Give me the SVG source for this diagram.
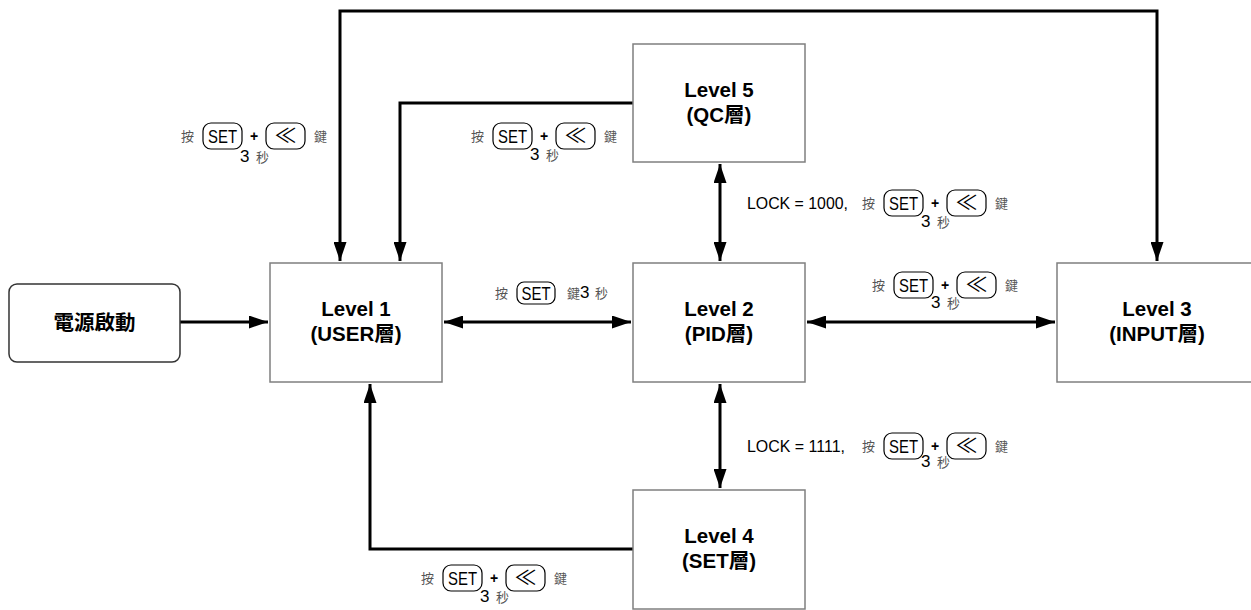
<svg xmlns="http://www.w3.org/2000/svg" width="1251" height="610" viewBox="0 0 1251 610">
<style>
.box{fill:#fff;stroke:#7f7f7f;stroke-width:1.5}
.pw{fill:#fff;stroke:#333;stroke-width:1.5}
.nt{font-family:"Liberation Sans","Noto Sans CJK TC",sans-serif;font-weight:bold;font-size:20.5px;fill:#000;text-anchor:middle}
.cn{fill:none;stroke:#000;stroke-width:3}
.k{fill:none;stroke:#000;stroke-width:1.2}
.lt{font-family:"Liberation Sans",sans-serif;font-size:17px;fill:#000}
.kt{font-family:"Liberation Sans",sans-serif;font-size:18px;fill:#000;text-anchor:middle}
.ar{font-family:"Noto Sans CJK TC","DejaVu Sans",sans-serif;font-size:20px;fill:#000;text-anchor:middle}
.pl{font-family:"Liberation Sans",sans-serif;font-weight:bold;font-size:14px;fill:#000;text-anchor:middle}
.cj{font-family:"Noto Sans CJK TC",sans-serif;font-size:13px;fill:#555}
</style>
<defs>
<marker id="ah" markerUnits="userSpaceOnUse" markerWidth="19" markerHeight="13" refX="19" refY="6.5" orient="auto-start-reverse">
<path d="M0,0 L19,6.5 L0,13 z" fill="#000"/>
</marker>
<g id="keys">
<text class="cj" x="0" y="5">按</text>
<rect class="k" x="22" y="-13" width="39" height="26" rx="8"/>
<text class="kt" x="41.5" y="6.5" textLength="29" lengthAdjust="spacingAndGlyphs">SET</text>
<text class="pl" x="73" y="5">+</text>
<rect class="k" x="85" y="-13" width="39" height="26" rx="8"/>
<text class="ar" x="104.5" y="7" textLength="22" lengthAdjust="spacingAndGlyphs">≪</text>
<text class="cj" x="133" y="5">鍵</text>
</g>
</defs>

<g id="connectors">
<line class="cn" x1="180" y1="322" x2="268" y2="322" marker-end="url(#ah)"/>
<line class="cn" x1="444" y1="322" x2="631" y2="322" marker-start="url(#ah)" marker-end="url(#ah)"/>
<line class="cn" x1="807" y1="322" x2="1055" y2="322" marker-start="url(#ah)" marker-end="url(#ah)"/>
<line class="cn" x1="720" y1="164" x2="720" y2="261" marker-start="url(#ah)" marker-end="url(#ah)"/>
<line class="cn" x1="720" y1="384" x2="720" y2="488" marker-start="url(#ah)" marker-end="url(#ah)"/>
<path class="cn" d="M340,261 L340,11 L1157,11 L1157,261" marker-start="url(#ah)" marker-end="url(#ah)"/>
<path class="cn" d="M633,103 L400,103 L400,261" marker-end="url(#ah)"/>
<path class="cn" d="M633,549 L370,549 L370,384" marker-end="url(#ah)"/>
</g>

<g id="power">
<rect class="pw" x="9" y="284" width="171" height="78" rx="8"/>
<text class="nt" x="94.5" y="330" font-size="21">電源啟動</text>
</g>
<g id="level1">
<rect class="box" x="270" y="263" width="172" height="119"/>
<text class="nt" x="356" y="316">Level 1</text>
<text class="nt" x="356" y="341">(USER層)</text>
</g>
<g id="level2">
<rect class="box" x="633" y="263" width="172" height="119"/>
<text class="nt" x="719" y="316">Level 2</text>
<text class="nt" x="719" y="341">(PID層)</text>
</g>
<g id="level3">
<rect class="box" x="1057" y="263" width="220" height="119"/>
<text class="nt" x="1157" y="316">Level 3</text>
<text class="nt" x="1157" y="341">(INPUT層)</text>
</g>
<g id="level5">
<rect class="box" x="633" y="44" width="172" height="118"/>
<text class="nt" x="719" y="97">Level 5</text>
<text class="nt" x="719" y="122">(QC層)</text>
</g>
<g id="level4">
<rect class="box" x="633" y="490" width="172" height="119"/>
<text class="nt" x="719" y="543">Level 4</text>
<text class="nt" x="719" y="568">(SET層)</text>
</g>

<g id="labels">
<use href="#keys" x="181" y="136"/>
<text class="lt" x="240" y="162">3</text><text class="cj" x="256" y="162">秒</text>

<use href="#keys" x="471" y="136"/>
<text class="lt" x="530" y="160">3</text><text class="cj" x="546" y="160">秒</text>

<text class="lt" x="747" y="209" textLength="101" lengthAdjust="spacingAndGlyphs">LOCK = 1000,</text>
<use href="#keys" x="862" y="203"/>
<text class="lt" x="921" y="227">3</text><text class="cj" x="937" y="227">秒</text>

<text class="cj" x="495" y="298">按</text>
<rect class="k" x="517" y="282" width="38" height="22" rx="7"/>
<text class="kt" x="536" y="299.5" textLength="29" lengthAdjust="spacingAndGlyphs">SET</text>
<text class="cj" x="567" y="298">鍵</text><text class="lt" x="580" y="298">3</text><text class="cj" x="595" y="298">秒</text>

<use href="#keys" x="872" y="285"/>
<text class="lt" x="931" y="308">3</text><text class="cj" x="947" y="308">秒</text>

<text class="lt" x="747" y="452" textLength="98" lengthAdjust="spacingAndGlyphs">LOCK = 1111,</text>
<use href="#keys" x="862" y="446"/>
<text class="lt" x="921" y="467">3</text><text class="cj" x="937" y="467">秒</text>

<use href="#keys" x="421" y="578"/>
<text class="lt" x="480" y="602">3</text><text class="cj" x="496" y="602">秒</text>
</g>
</svg>
